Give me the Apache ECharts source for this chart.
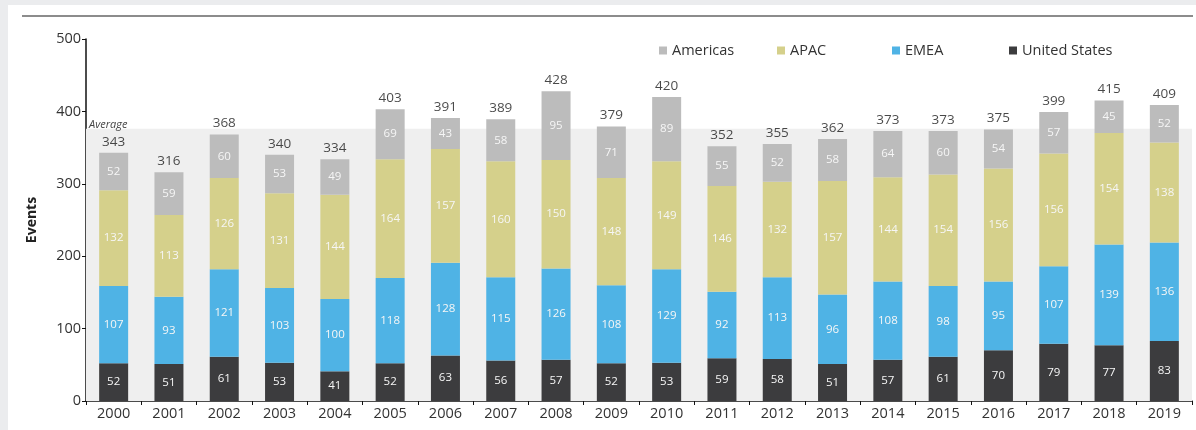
<!DOCTYPE html>
<html>
<head>
<meta charset="utf-8">
<script src="https://cdn.jsdelivr.net/npm/echarts@6/dist/echarts.min.js"></script>
<style>
html,body{margin:0;padding:0;background:#ebecee;}
#chart{width:1196px;height:430px;}
</style>
</head>
<body>
<div id="chart"></div>
<script>
const categories = ['2000','2001','2002','2003','2004','2005','2006','2007','2008','2009','2010','2011','2012','2013','2014','2015','2016','2017','2018','2019'];
const unitedStates = [52,51,61,53,41,52,63,56,57,52,53,59,58,51,57,61,70,79,77,83];
const emea = [107,93,121,103,100,118,128,115,126,108,129,92,113,96,108,98,95,107,139,136];
const apac = [132,113,126,131,144,164,157,160,150,148,149,146,132,157,144,154,156,156,154,138];
const americas = [52,59,60,53,49,69,43,58,95,71,89,55,52,58,64,60,54,57,45,52];
const totals = [343,316,368,340,334,403,391,389,428,379,420,352,355,362,373,373,375,399,415,409];
const averageValue = 376;
const yTicks = [0,100,200,300,400,500];

const FONT = '"Open Sans", "Liberation Sans", sans-serif';
const colors = {Americas:'#bcbcbc', APAC:'#d5d08b', EMEA:'#4fb3e5', 'United States':'#3c3c3e'};

function barSeries(name, data) {
  return {
    name: name, type: 'bar', stack: 'total', data: data, barWidth: 29, z: 3,
    itemStyle: {color: colors[name]},
    label: {show: true, position: 'inside', color: '#f6f6f6', fontSize: 11.5, fontFamily: FONT}
  };
}

const chart = echarts.init(document.getElementById('chart'), null, {renderer: 'canvas'});
const legendPos = [
  {name: 'Americas', left: 654},
  {name: 'APAC', left: 772},
  {name: 'EMEA', left: 887},
  {name: 'United States', left: 1004}
];
chart.setOption({
  backgroundColor: '#ebecee',
  animation: false,
  textStyle: {fontFamily: FONT},
  graphic: [
    {type: 'rect', z: -10, shape: {x: 8, y: 5, width: 1188, height: 425}, style: {fill: '#ffffff'}},
    {type: 'line', z: -5, shape: {x1: 22, y1: 16, x2: 1193, y2: 16}, style: {stroke: '#8c8c8c', lineWidth: 2}}
  ],
  legend: legendPos.map(l => ({
    data: [l.name], left: l.left, top: 38, itemWidth: 8, itemHeight: 8, icon: 'rect', itemGap: 0,
    textStyle: {fontSize: 14.5, color: '#333', fontFamily: FONT, padding: [0,0,0,0]}, selectedMode: false
  })),
  grid: {left: 86, right: 4, top: 39, bottom: 29, containLabel: false},
  xAxis: {
    type: 'category', data: categories,
    axisLine: {lineStyle: {color: '#111', width: 1.5}},
    axisTick: {show: true, length: 4, lineStyle: {color: '#111'}},
    axisLabel: {fontSize: 14.5, color: '#333', margin: 5, fontFamily: FONT}
  },
  yAxis: {
    type: 'value', min: yTicks[0], max: yTicks[yTicks.length-1], interval: 100,
    name: 'Events', nameLocation: 'middle', nameGap: 47,
    nameTextStyle: {fontSize: 14, fontWeight: 'bold', color: '#222', fontFamily: FONT},
    axisLine: {show: true, lineStyle: {color: '#111', width: 1.5}},
    axisTick: {show: true, length: 4, lineStyle: {color: '#111'}},
    axisLabel: {fontSize: 14.5, color: '#333', margin: 5, fontFamily: FONT},
    splitLine: {show: false}
  },
  series: [
    {
      name: 'avg', type: 'line', data: [], z: 0, silent: true,
      markArea: {
        silent: true,
        itemStyle: {color: '#efefef'},
        label: {show: true, position: 'insideTopLeft', offset: [-2, -14], formatter: 'Average', fontSize: 11, fontStyle: 'italic', color: '#444', fontFamily: FONT},
        data: [[{yAxis: 0, x: 86}, {yAxis: averageValue, x: 1192}]]
      }
    },
    barSeries('United States', unitedStates),
    barSeries('EMEA', emea),
    barSeries('APAC', apac),
    barSeries('Americas', americas),
    {
      name: 'Total', type: 'scatter', data: totals, symbolSize: 0, z: 4,
      label: {show: true, position: 'top', distance: 4, color: '#1a1a1a', fontSize: 13.5, fontFamily: FONT}
    }
  ]
});
</script>
</body>
</html>
